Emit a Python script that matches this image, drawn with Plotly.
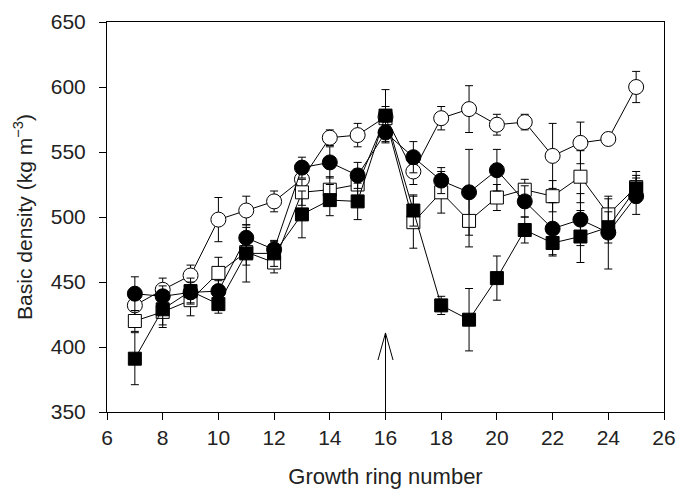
import plotly.graph_objects as go

rings = list(range(7, 26))

open_circle = [432, 444, 455, 498, 505, 512, 529, 561, 563, 577, 535, 576, 583, 571, 573, 547, 557, 560, 600]
open_circle_err = [12, 9, 8, 17, 11, 8, 10, 6, 9, 8, 10, 9, 18, 8, 6, 25, 16, 4, 12]

filled_circle = [441, 439, 442, 443, 484, 475, 538, 542, 532, 565, 546, 528, 519, 536, 512, 491, 498, 488, 516]
filled_circle_err = [13, 8, 8, 8, 8, 6, 8, 12, 10, 8, 12, 10, 33, 16, 12, 20, 20, 28, 14]

open_square = [420, 427, 436, 457, 473, 465, 519, 521, 525, 576, 496, 519, 497, 515, 521, 516, 531, 502, 523]
open_square_err = [8, 10, 12, 12, 10, 8, 10, 10, 12, 6, 20, 16, 20, 10, 8, 12, 20, 12, 12]

filled_square = [391, 429, 443, 433, 472, 472, 502, 513, 512, 578, 505, 432, 421, 453, 490, 480, 485, 492, 522]
filled_square_err = [20, 14, 10, 7, 22, 10, 18, 12, 14, 20, 12, 7, 24, 17, 10, 10, 20, 12, 10]

x_ticks = [6, 8, 10, 12, 14, 16, 18, 20, 22, 24, 26]
y_ticks = [350, 400, 450, 500, 550, 600, 650]

ARROW_X = 16
ARROW_BASE = 350
ARROW_TIP = 410.8
ARROW_HEAD_BASE = 390
ARROW_HALF = 0.27

FONT = "Liberation Sans, Arial, sans-serif"
TEXT_COLOR = "#222"

series = [
    ("open circle", open_circle, open_circle_err, "circle", "white", 15),
    ("open square", open_square, open_square_err, "square", "white", 13),
    ("filled circle", filled_circle, filled_circle_err, "circle", "black", 15),
    ("filled square", filled_square, filled_square_err, "square", "black", 13),
]

fig = go.Figure()
for name, vals, errs, sym, fill, size in series:
    fig.add_trace(go.Scatter(
        x=rings, y=vals, name=name, mode="lines+markers",
        line=dict(color="black", width=1),
        marker=dict(symbol=sym, size=size, color=fill, line=dict(color="black", width=1)),
        error_y=dict(type="data", array=errs, visible=True, color="black", thickness=1, width=4),
        showlegend=False,
    ))

# arrow at ring 16
fig.add_shape(type="line", xref="x", yref="y", x0=ARROW_X, x1=ARROW_X, y0=ARROW_BASE, y1=ARROW_TIP,
              line=dict(color="black", width=1))
fig.add_shape(type="line", xref="x", yref="y", x0=ARROW_X - ARROW_HALF, x1=ARROW_X, y0=ARROW_HEAD_BASE, y1=ARROW_TIP,
              line=dict(color="black", width=1))
fig.add_shape(type="line", xref="x", yref="y", x0=ARROW_X + ARROW_HALF, x1=ARROW_X, y0=ARROW_HEAD_BASE, y1=ARROW_TIP,
              line=dict(color="black", width=1))

axis_common = dict(
    showgrid=False, zeroline=False, showline=True, linecolor="black", linewidth=1,
    mirror=True, ticks="outside", ticklen=7, tickcolor="black", tickwidth=1,
    tickfont=dict(family=FONT, size=21, color=TEXT_COLOR), automargin=False,
)

fig.update_xaxes(range=[6, 26], tickvals=x_ticks,
                 title=dict(text="Growth ring number", font=dict(family=FONT, size=22, color=TEXT_COLOR), standoff=20),
                 **axis_common)
fig.update_yaxes(range=[350, 650], tickvals=y_ticks, ticklabelstandoff=9,
                 title=dict(text="Basic density (kg m<sup>−3</sup>)", font=dict(family=FONT, size=21, color=TEXT_COLOR), standoff=12),
                 **axis_common)

fig.update_layout(
    width=677, height=493,
    margin=dict(l=107, r=13, t=22, b=81),
    paper_bgcolor="white", plot_bgcolor="white",
)

fig.write_html("out.html")
